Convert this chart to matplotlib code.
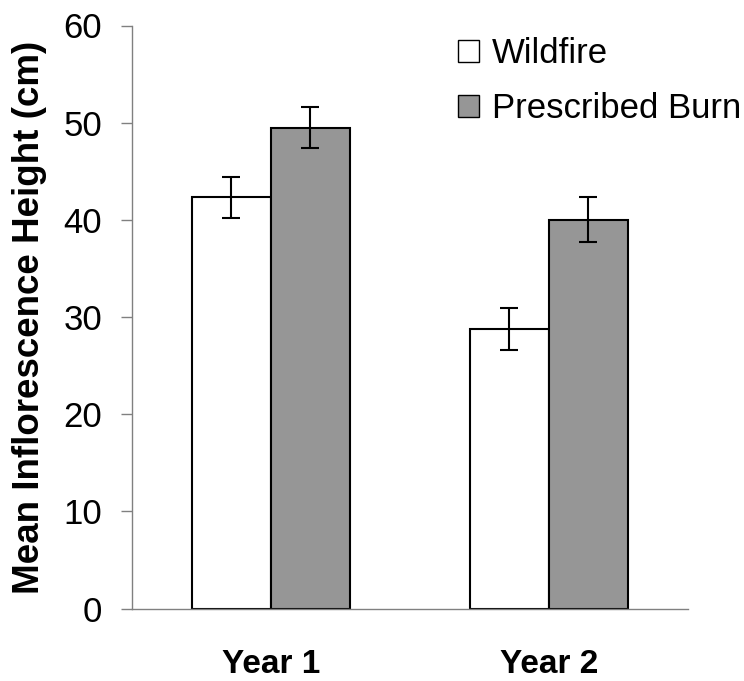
import matplotlib.pyplot as plt
import numpy as np
from matplotlib.patches import Patch

plt.rcParams['font.family'] = ['Liberation Sans', 'DejaVu Sans']

years = ['Year 1', 'Year 2']
wildfire = [42.3, 28.8]
wildfire_err = [2.1, 2.15]
prescribed = [49.5, 40.0]
prescribed_err = [2.15, 2.3]

fig = plt.figure(figsize=(7.44, 6.81), dpi=100)
ax = fig.add_axes([131.5 / 744, 1 - 608.5 / 681, (688 - 131.5) / 744, (608.5 - 25.5) / 681])

x = np.arange(len(years))
w = 0.284
err_kw = dict(ecolor='black', elinewidth=1.5, capsize=6.5, capthick=1.5)
ax.bar(x - w / 2, wildfire, w, yerr=wildfire_err, color='white',
       edgecolor='black', linewidth=1.5, error_kw=err_kw)
ax.bar(x + w / 2, prescribed, w, yerr=prescribed_err, color='#969696',
       edgecolor='black', linewidth=1.5, error_kw=err_kw)

ax.set_xlim(-0.5, 1.5)
ax.set_ylim(0, 60)
ax.set_yticks(range(0, 61, 10))
ax.set_xticks(x)
ax.set_xticklabels(years, fontsize=24, fontweight='bold')
ax.tick_params(axis='x', length=0, pad=29)
ax.tick_params(axis='y', length=8, width=1, color='#808080', labelsize=25, pad=13)

for s in ['top', 'right']:
    ax.spines[s].set_visible(False)
for s in ['left', 'bottom']:
    ax.spines[s].set_color('#808080')
    ax.spines[s].set_linewidth(1)

ax.set_ylabel('Mean Inflorescence Height (cm)', fontsize=26.5, fontweight='bold')
ax.yaxis.set_label_coords(-0.151, 0.5)

handles = [Patch(facecolor='white', edgecolor='black', linewidth=1),
           Patch(facecolor='#969696', edgecolor='black', linewidth=1)]
fig.legend(handles, ['Wildfire', 'Prescribed Burn'], loc='upper left',
           bbox_to_anchor=(458 / 744, 1 - 37 / 681), frameon=False,
           fontsize=25, handlelength=0.6, handleheight=0.6,
           handletextpad=0.37, labelspacing=0.63, borderpad=0, borderaxespad=0)

fig.savefig('out.png', dpi=100)
